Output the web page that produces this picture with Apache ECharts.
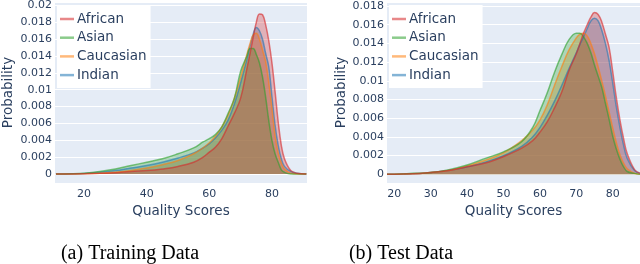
<!DOCTYPE html>
<html>
<head>
<meta charset="utf-8">
<script src="https://cdn.jsdelivr.net/npm/echarts@6/dist/echarts.min.js"></script>
<style>
html,body{margin:0;padding:0;background:#fff;}
#c{width:640px;height:264px;}
</style>
</head>
<body>
<div id="c"></div>
<script>
// ---- Data ----
const groups = ['African', 'Asian', 'Caucasian', 'Indian'];

// (a) Training data
const trainX = [11, 16, 20, 25, 30, 35, 40, 45, 50, 55, 58, 60, 62, 64, 66, 68, 70, 72, 73, 74, 75, 76, 77, 78, 79, 80, 81, 82, 83, 84, 86, 88, 91];
const trainAfrican   = [0, 0, 0.00003, 0.00008, 0.00015, 0.0003, 0.0004, 0.0006, 0.0009, 0.0014, 0.0020, 0.0026, 0.0032, 0.0042, 0.0057, 0.0072, 0.0090, 0.0125, 0.0143, 0.0162, 0.0180, 0.0190, 0.0189, 0.0177, 0.0158, 0.0132, 0.0098, 0.0062, 0.0034, 0.0018, 0.0004, 0.0001, 0];
const trainAsian     = [0, 0.00003, 0.0001, 0.0003, 0.0006, 0.0010, 0.0014, 0.0018, 0.0024, 0.0031, 0.0038, 0.0042, 0.0047, 0.0056, 0.0072, 0.0090, 0.0122, 0.0140, 0.0149, 0.0149, 0.0142, 0.0132, 0.0115, 0.0091, 0.0063, 0.0040, 0.0024, 0.0014, 0.0005, 0.0002, 0, 0, 0];
const trainCaucasian = [0, 0, 0.00003, 0.0001, 0.0002, 0.0004, 0.0007, 0.0011, 0.0016, 0.0024, 0.0031, 0.0037, 0.0045, 0.0056, 0.0070, 0.0090, 0.0115, 0.0142, 0.0155, 0.0165, 0.0167, 0.0160, 0.0147, 0.0133, 0.0108, 0.0078, 0.0045, 0.0025, 0.0013, 0.0006, 0.0001, 0, 0];
const trainIndian    = [0, 0.00002, 0.00005, 0.0002, 0.0004, 0.0007, 0.0010, 0.0014, 0.0019, 0.0025, 0.0031, 0.0036, 0.0043, 0.0052, 0.0064, 0.0083, 0.0108, 0.0136, 0.0152, 0.0166, 0.0174, 0.0170, 0.0160, 0.0143, 0.0127, 0.0092, 0.0058, 0.0034, 0.0018, 0.0009, 0.0003, 0.0001, 0];

// (b) Test data
const testX = [18, 20, 25, 30, 35, 40, 45, 50, 55, 58, 60, 62, 64, 66, 68, 70, 71, 72, 73, 74, 75, 76, 77, 78, 79, 80, 81, 82, 83, 84, 86, 87.5];
const testAfrican   = [0, 0, 0.00005, 0.0002, 0.0004, 0.0008, 0.0012, 0.0019, 0.0028, 0.0036, 0.0045, 0.0056, 0.0071, 0.0088, 0.0111, 0.0129, 0.0140, 0.0151, 0.0160, 0.0168, 0.0173, 0.0171, 0.0163, 0.0150, 0.0136, 0.0110, 0.0082, 0.0058, 0.0038, 0.0022, 0.0005, 0.0001];
const testAsian     = [0, 0.00001, 0.0001, 0.0002, 0.0005, 0.0010, 0.0017, 0.0024, 0.0035, 0.0050, 0.0068, 0.0087, 0.0109, 0.0128, 0.0144, 0.0151, 0.0151, 0.0147, 0.0140, 0.0130, 0.0117, 0.0105, 0.0093, 0.0076, 0.0059, 0.0041, 0.0027, 0.0016, 0.0008, 0.0003, 0.0001, 0];
const testCaucasian = [0, 0, 0.00005, 0.0002, 0.0004, 0.0009, 0.0015, 0.0023, 0.0036, 0.0047, 0.0058, 0.0074, 0.0095, 0.0115, 0.0133, 0.0146, 0.0150, 0.0151, 0.0148, 0.0140, 0.0129, 0.0115, 0.0100, 0.0084, 0.0067, 0.0050, 0.0034, 0.0021, 0.0012, 0.0006, 0.0001, 0];
const testIndian    = [0, 0, 0.00005, 0.0002, 0.0004, 0.0008, 0.0013, 0.0020, 0.0030, 0.0040, 0.0050, 0.0063, 0.0078, 0.0095, 0.0113, 0.0130, 0.0139, 0.0147, 0.0156, 0.0164, 0.0167, 0.0164, 0.0154, 0.0140, 0.0122, 0.0098, 0.0072, 0.0050, 0.0031, 0.0017, 0.0004, 0.0001];

const captions = ['(a) Training Data', '(b) Test Data'];
const xTitle = 'Quality Scores';
const yTitle = 'Probability';

// ---- Styling ----
const colors = {
  African:   [214, 39, 40],
  Asian:     [44, 160, 44],
  Caucasian: [255, 127, 14],
  Indian:    [31, 119, 180]
};
const rgba = (c, a) => `rgba(${c[0]},${c[1]},${c[2]},${a})`;
const txt = '#2a3f5f';
const font = 'DejaVu Sans';

const trainSets = { African: trainAfrican, Asian: trainAsian, Caucasian: trainCaucasian, Indian: trainIndian };
const testSets  = { African: testAfrican,  Asian: testAsian,  Caucasian: testCaucasian,  Indian: testIndian };
const drawOrder = ['Indian', 'Caucasian', 'Asian', 'African'];

function makeSeries(xs, sets, idx) {
  return drawOrder.map(name => ({
    name: name,
    type: 'line',
    xAxisIndex: idx,
    yAxisIndex: idx,
    smooth: 0.4,
    symbol: 'none',
    showSymbol: false,
    color: rgba(colors[name], 0.55),
    lineStyle: { width: 1.5, color: rgba(colors[name], 0.6) },
    areaStyle: { color: rgba(colors[name], 0.3), opacity: 1 },
    data: xs.map((x, i) => [x, sets[name][i]]),
    animation: false
  }));
}

const grids = [
  { left: 55, top: 2, width: 252, height: 181 },
  { left: 387, top: 2, width: 253, height: 181 }
];
const xRanges = [[10.7, 91.2], [18, 87.5]];
const yRanges = [[-0.00107, 0.0204], [-0.00093, 0.01843]];
const yGaps = [40, 39];
const captionX = [125, 396];

const option = {
  animation: false,
  backgroundColor: '#ffffff',
  title: captions.map((t, i) => ({
    text: t,
    left: captionX[i],
    top: 239,
    textAlign: 'center',
    textStyle: { fontFamily: 'Liberation Serif', fontSize: 20, fontWeight: 'normal', color: '#000' }
  })),
  grid: grids.map(g => Object.assign({ show: true, backgroundColor: '#E5ECF6', borderWidth: 0, containLabel: false }, g)),
  legend: grids.map((g, i) => ({
    data: groups.map(n => ({ name: n, icon: 'rect' })),
    orient: 'vertical',
    left: g.left + 2,
    top: 5,
    padding: [6, 4, 5, 3],
    itemWidth: 14,
    itemHeight: 2.5,
    itemGap: 2.7,
    backgroundColor: '#ffffff',
    textStyle: { fontFamily: font, fontSize: 13.5, lineHeight: 16, color: txt, padding: [0, 0, 0, -2] },
    selectedMode: false
  })),
  xAxis: xRanges.map((r, i) => ({
    type: 'value',
    gridIndex: i,
    min: r[0],
    max: r[1],
    name: xTitle,
    nameLocation: 'middle',
    nameGap: 20,
    nameTextStyle: { fontFamily: font, fontSize: 13.5, color: txt },
    axisLine: { show: false },
    axisTick: { show: false },
    splitLine: { show: false },
    axisLabel: { fontFamily: font, fontSize: 11, color: txt, margin: 6, showMinLabel: false, showMaxLabel: false }
  })),
  yAxis: yRanges.map((r, i) => ({
    type: 'value',
    gridIndex: i,
    min: r[0],
    max: r[1],
    splitNumber: 10,
    name: yTitle,
    nameLocation: 'middle',
    nameGap: yGaps[i],
    nameTextStyle: { fontFamily: font, fontSize: 13.5, color: txt },
    axisLine: { show: false },
    axisTick: { show: false },
    splitLine: { show: true, lineStyle: { color: '#ffffff', width: 1 } },
    axisLabel: { fontFamily: font, fontSize: 11, color: txt, margin: 3, showMinLabel: false, showMaxLabel: false }
  })),
  series: makeSeries(trainX, trainSets, 0).concat(makeSeries(testX, testSets, 1))
};

const chart = echarts.init(document.getElementById('c'), null, { renderer: 'canvas' });
chart.setOption(option);
</script>
</body>
</html>
